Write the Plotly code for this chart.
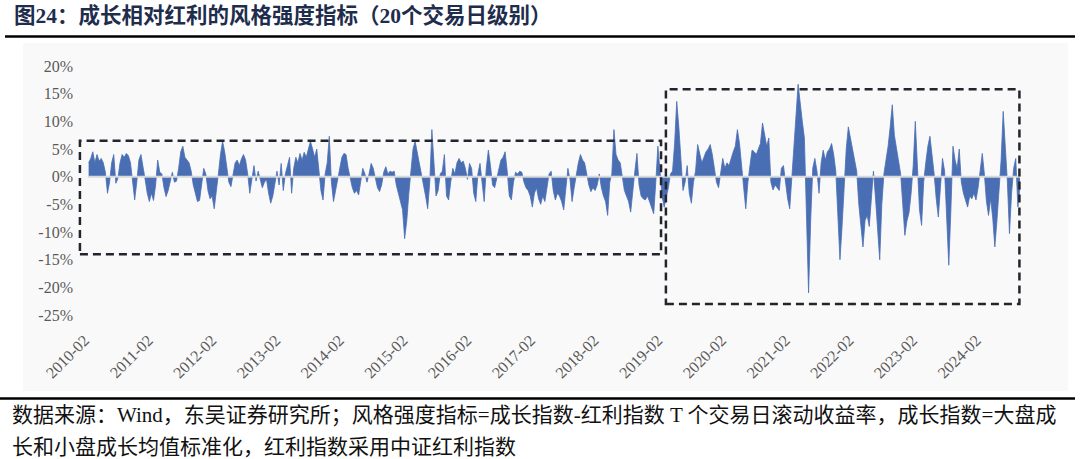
import pandas as pd
import plotly.graph_objects as go

# ---------------- data (percent) ----------------
values = [
    2.5, 3.3, 4.5, 2.5, 4.0, 2.8, 3.3, 2.5, 0.8, -3.0,
    -1.0, 2.5, 4.0, -1.2, -0.3, 2.5, 4.0, 3.5, 4.2, 3.8,
    2.5, -1.0, -4.2, -1.0, 3.0, 4.0, 2.0, -0.5, -3.0, -4.5,
    -3.0, -4.3, -1.5, 3.0, 0.8, 0.5, -2.0, -3.6, -2.5, -1.0,
    0.8, -1.0, -0.8, 1.5, 4.5, 5.5, 3.5, 3.0, 2.5, 1.0,
    -1.5, -3.0, -4.5, -4.3, -1.0, 1.5, 0.5, -2.5, -4.0, -3.5,
    -5.8, -3.0, 0.5, 4.0, 6.4, 4.5, 2.0, -1.0, -1.8, 0.5,
    2.5, 3.0, 2.0, 3.2, 4.0, 3.0, 0.5, -3.0, -0.5, 2.0,
    -0.8, 1.0, -0.5, -2.0, -1.0, -0.5, -3.0, -4.8, -3.5, -1.0,
    1.0, -1.5, 2.4, -2.5, 0.5, 2.0, 3.5, -3.0, 1.5, 3.5,
    2.5, 4.2, 3.0, 4.4, 3.5, 5.0, 6.4, 5.0, 3.5, 5.0,
    1.0, -2.5, -4.2, 0.5, 2.5, 7.3, -1.0, -4.5, -2.5, -0.5,
    1.5, 3.5, 4.2, 4.0, 1.5, -0.5, -2.0, -3.0, -2.5, -3.3,
    -1.0, 1.5, 0.5, -1.0, 0.5, 2.4, 1.5, -0.5, -2.0, -2.7,
    -1.5, 0.8, 1.8, 0.5, 1.0, 0.8, 1.0, -1.5, -3.0, -4.5,
    -6.0, -11.2, -8.0, -3.0, 1.0, 5.0, 6.4, 4.5, 2.4, 0.5,
    -1.0, -3.5, -5.8, -1.0, 8.5, 3.0, -3.5, -2.5, 0.5, 1.0,
    4.0, -3.5, -4.2, -1.0, 1.5, 0.5, 2.5, 3.3, 2.5, 2.8,
    1.5, -0.5, 2.4, 1.5, -3.0, -4.5, 0.5, 2.4, -1.0, -4.5,
    1.5, 4.8, 2.0, -1.5, -2.0, -0.5, 1.5, 3.0, 3.5, 4.5,
    1.0, -3.5, -4.2, -1.0, 0.8, 0.5, 1.0, 0.8, -1.0, -2.0,
    -2.5, -3.5, -5.5, -3.0, -2.0, -4.0, -5.0, -3.5, -4.5, -2.0,
    0.5, 1.0, -2.5, -4.2, -3.0, -3.5, -4.5, -6.0, -2.0, 1.5,
    -0.5, -4.5, -2.0, 0.5, 2.5, 4.0, 3.0, 2.5, 0.5, -1.5,
    -2.7, -2.0, -2.5, -1.5, 0.5, -2.0, -3.5, -4.5, -7.0, -1.0,
    0.5, 8.5, 4.0, 3.0, 2.5, -0.5, -2.5, -3.5, -4.5, -6.4,
    -2.0, 1.0, 4.2, -1.5, -3.5, -4.0, -4.2, -3.5, -4.5, -5.5,
    -6.7, -1.0, 5.5, 1.0, -3.5, -5.5, -4.0, -2.0, 0.5, 1.0,
    6.0, 13.6, 9.0, 2.0, -2.5, -1.0, 2.0, -3.0, -4.8, -1.0,
    1.0, 5.8, 4.0, 2.5, 3.5, 4.5, 5.0, 5.8, 4.0, 1.5,
    -1.0, -2.0, 0.5, 3.3, 1.5, 2.5, 2.0, 3.5, 4.5, 5.5,
    8.5, 6.0, 1.5, -2.0, -5.8, -1.0, 2.0, 4.8, 4.5, 4.0,
    5.0, 6.0, 9.7, 7.5, 5.5, 7.0, -1.0, -2.4, -1.5, -2.0,
    -2.5, 1.5, 2.0, -1.0, -4.0, -5.8, 0.5, 5.0, 11.0, 16.7,
    13.0, 10.0, 7.0, -5.0, -21.0, -8.0, 1.5, 3.3, 1.0, -3.0,
    2.5, 4.8, 3.0, 4.5, 5.0, 6.0, 4.0, 1.0, -6.0, -15.0,
    -9.0, -2.0, 5.0, 9.0, 7.0, 5.0, 3.0, 1.0, -5.0, -9.0,
    -12.7, -7.9, -7.0, -9.0, -4.0, 1.0, -4.0, -9.0, -15.0, -5.0,
    0.5, 3.0, 5.5, 9.0, 13.0, 7.5, 5.0, 3.0, 0.5, -5.0,
    -10.6, -8.0, -6.5, -3.0, 2.0, 10.0, 1.5, -6.0, -8.8, -1.0,
    2.5, 5.5, 7.3, 4.0, 0.5, -4.0, -7.3, -2.0, 3.3, 1.0,
    -8.0, -16.0, -6.0, 5.5, 3.0, 1.5, 5.0, -1.0, -3.0, -4.5,
    -5.5, -3.5, -4.0, -3.0, -4.2, -2.0, 1.5, 4.2, 0.5, -4.5,
    -7.0, -4.0, -7.5, -12.7, -8.0, -3.0, 3.0, 11.8, 5.0, -1.0,
    -10.3, -3.0, 1.5, 3.3, -5.5, -2.0,
]
start_date = "2010-01-04"
sample_step = "12D"
dates = pd.date_range(start_date, periods=len(values), freq=sample_step)

tick_years = list(range(2010, 2025))
tick_dates = [f"{y}-02-01" for y in tick_years]
tick_text = [f"{y}-02" for y in tick_years]
y_ticks = list(range(-25, 21, 5))
y_text = [f"{v}%" for v in y_ticks]

title_text = "图24：成长相对红利的风格强度指标（20个交易日级别）"
source_line1 = "数据来源：Wind，东吴证券研究所；风格强度指标=成长指数-红利指数 T 个交易日滚动收益率，成长指数=大盘成"
source_line2 = "长和小盘成长均值标准化，红利指数采用中证红利指数"

# highlighted regimes (date span, value span)
regimes = [
    ("2009-11-15", "2018-12-30", -14.0, 6.5),
    ("2019-01-27", "2024-08-15", -23.0, 15.8),
]

# ---------------- layout geometry ----------------
FIG_W, FIG_H = 1080, 459
L, R, T, B = 78, 1040, 66, 315


def px_x(px):
    return (px - L) / (R - L)


def px_y(py):
    return (B - py) / (B - T)


AREA = "#4A6EB4"
TICK_FONT = dict(family="Liberation Serif, Times New Roman, serif", size=16, color="#595959")
TEXT_FAMILY = "Liberation Serif, Noto Sans CJK SC"

fig = go.Figure()
fig.add_trace(go.Scatter(
    x=dates, y=values, mode="lines",
    line=dict(color=AREA, width=0.8),
    fill="tozeroy", fillcolor=AREA,
    hoverinfo="skip", showlegend=False,
))

shapes = []
# light panel behind the chart
shapes.append(dict(type="rect", xref="paper", yref="paper",
                   x0=px_x(23), x1=px_x(1068), y0=px_y(391), y1=px_y(43),
                   fillcolor="#F9F9F9", line=dict(width=0), layer="below"))
# zero line
shapes.append(dict(type="line", xref="x", yref="y",
                   x0=dates[0], x1=dates[-1], y0=0, y1=0,
                   line=dict(color="#D9D9D9", width=2), layer="above"))
# dashed regime boxes
for x0, x1, y0, y1 in regimes:
    shapes.append(dict(type="rect", xref="x", yref="y", x0=x0, x1=x1, y0=y0, y1=y1,
                       line=dict(color="#22252E", width=2.5, dash="8px,5px"),
                       fillcolor="rgba(0,0,0,0)", layer="above"))
# header / footer rules
shapes.append(dict(type="line", xref="paper", yref="paper",
                   x0=px_x(5), x1=px_x(1075), y0=px_y(36.5), y1=px_y(36.5),
                   line=dict(color="#000000", width=2.5)))
shapes.append(dict(type="line", xref="paper", yref="paper",
                   x0=px_x(0), x1=px_x(1075), y0=px_y(398.5), y1=px_y(398.5),
                   line=dict(color="#000000", width=2.5)))

annotations = [
    dict(text="<b>" + title_text + "</b>", xref="paper", yref="paper",
         x=px_x(12), y=px_y(16), xanchor="left", yanchor="middle", showarrow=False,
         font=dict(family=TEXT_FAMILY, size=21.5, color="#1F2D4D")),
    dict(text=source_line1, xref="paper", yref="paper",
         x=px_x(10), y=px_y(415), xanchor="left", yanchor="middle", showarrow=False,
         font=dict(family=TEXT_FAMILY, size=21, color="#111111")),
    dict(text=source_line2, xref="paper", yref="paper",
         x=px_x(10), y=px_y(447), xanchor="left", yanchor="middle", showarrow=False,
         font=dict(family=TEXT_FAMILY, size=21, color="#111111")),
]

fig.update_layout(
    width=FIG_W, height=FIG_H,
    margin=dict(l=L, r=FIG_W - R, t=T, b=FIG_H - B, pad=0),
    paper_bgcolor="#FFFFFF", plot_bgcolor="rgba(0,0,0,0)",
    shapes=shapes, annotations=annotations, showlegend=False,
    xaxis=dict(type="date", range=["2009-11-04", "2024-12-11"],
               tickmode="array", tickvals=tick_dates, ticktext=tick_text,
               tickangle=-45, showgrid=False, zeroline=False, showline=False,
               ticks="", tickfont=TICK_FONT, ticklabelstandoff=12, ticklabelshift=-9),
    yaxis=dict(range=[-25, 20], tickmode="array", tickvals=y_ticks, ticktext=y_text,
               showgrid=False, zeroline=False, showline=False, ticks="",
               tickfont=TICK_FONT, ticklabelstandoff=4),
)

fig.write_html("out.html")
